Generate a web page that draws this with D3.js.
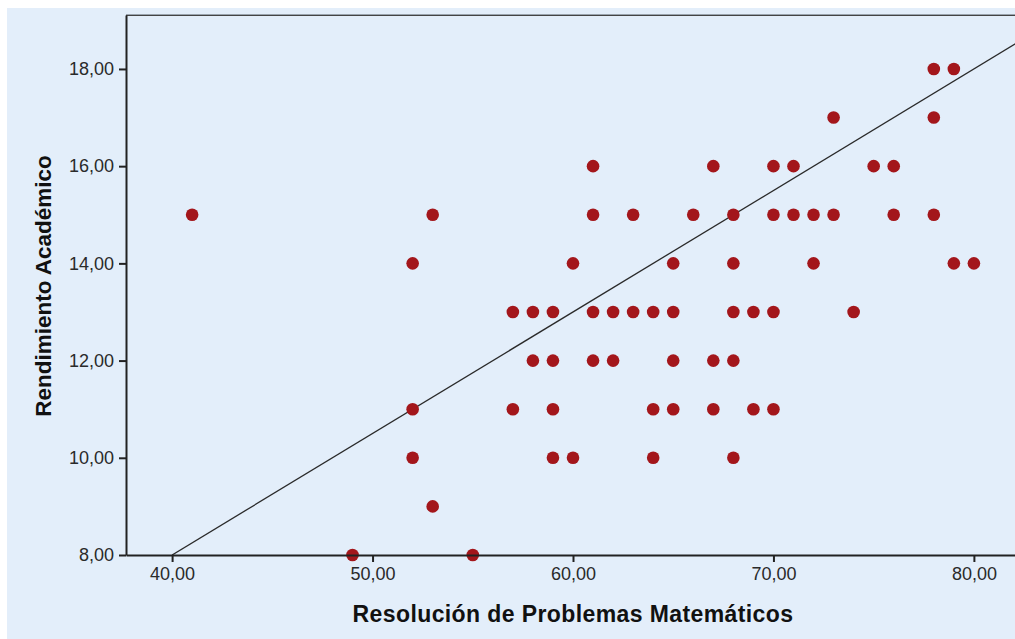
<!DOCTYPE html>
<html lang="es">
<head>
<meta charset="UTF-8">
<title>Dispersión</title>
<script src="https://cdn.jsdelivr.net/npm/d3@7"></script>
<style>
  body { margin: 0; background: #fff; }
  svg { display: block; font-family: "Liberation Sans", Arial, sans-serif; }
</style>
</head>
<body>
<div id="chart"></div>
<script>
// puntajes (x) y notas (y), un punto por par
var resolucion = [
  78, 79,
  73, 78,
  61, 67, 70, 71, 75, 76,
  41, 53, 61, 63, 66, 68, 70, 71, 72, 73, 76, 78,
  52, 60, 65, 68, 72, 79, 80,
  57, 58, 59, 61, 62, 63, 64, 65, 68, 69, 70, 74,
  58, 59, 61, 62, 65, 67, 68,
  52, 57, 59, 64, 65, 67, 69, 70,
  52, 59, 60, 64, 68,
  53,
  49, 55
];
var rendimiento = [
  18, 18,
  17, 17,
  16, 16, 16, 16, 16, 16,
  15, 15, 15, 15, 15, 15, 15, 15, 15, 15, 15, 15,
  14, 14, 14, 14, 14, 14, 14,
  13, 13, 13, 13, 13, 13, 13, 13, 13, 13, 13, 13,
  12, 12, 12, 12, 12, 12, 12,
  11, 11, 11, 11, 11, 11, 11, 11,
  10, 10, 10, 10, 10,
  9,
  8, 8
];
var xTicks = [40, 50, 60, 70, 80];
var yTicks = [8, 10, 12, 14, 16, 18];
var recta = { intercepto: -2, pendiente: 0.25 }; // recta de ajuste

var W = 1015, H = 639;
var pLeft = 126, pTop = 15, pRight = 1020, pBottom = 555;

var svg = d3.select("#chart").append("svg")
  .attr("width", W).attr("height", H);

svg.append("rect").attr("x", 7).attr("y", 8)
  .attr("width", W - 7).attr("height", H - 8).attr("fill", "#e3eefa");

var x = d3.scaleLinear().domain([37.7, 82.3]).range([pLeft, pRight]);
var y = d3.scaleLinear().domain([8, 19.11]).range([pBottom, pTop]);

var fmt = function(d){ return d.toFixed(2).replace(".", ","); };

// borde superior
svg.append("line").attr("x1", pLeft).attr("x2", W).attr("y1", pTop - 0.5).attr("y2", pTop - 0.5)
  .attr("stroke", "#9aa4ae").attr("stroke-width", 1);
svg.append("line").attr("x1", pLeft).attr("x2", W).attr("y1", pTop + 0.5).attr("y2", pTop + 0.5)
  .attr("stroke", "#444").attr("stroke-width", 1);

svg.append("clipPath").attr("id", "area")
  .append("rect").attr("x", pLeft).attr("y", pTop).attr("width", pRight - pLeft).attr("height", pBottom - pTop);

// recta
var xr0 = 40, xr1 = 82.3;
svg.append("line")
  .attr("clip-path", "url(#area)")
  .attr("x1", x(xr0)).attr("y1", y(recta.intercepto + recta.pendiente * xr0))
  .attr("x2", x(xr1)).attr("y2", y(recta.intercepto + recta.pendiente * xr1))
  .attr("stroke", "#2a2a2a").attr("stroke-width", 1.3);

// puntos
svg.append("g").selectAll("circle")
  .data(d3.range(resolucion.length))
  .enter().append("circle")
  .attr("cx", function(i){ return x(resolucion[i]); })
  .attr("cy", function(i){ return y(rendimiento[i]); })
  .attr("r", 6.3)
  .attr("fill", "#a3161b");

// ejes
var xAxis = svg.append("g").attr("transform", "translate(0," + pBottom + ")")
  .call(d3.axisBottom(x).tickValues(xTicks).tickFormat(fmt).tickSize(7).tickSizeOuter(0));
var yAxis = svg.append("g").attr("transform", "translate(" + pLeft + ",0)")
  .call(d3.axisLeft(y).tickValues(yTicks).tickFormat(fmt).tickSize(7).tickSizeOuter(0));

[xAxis, yAxis].forEach(function(a){
  a.select(".domain").attr("stroke", "#222").attr("stroke-width", 2);
  a.selectAll(".tick line").attr("stroke", "#222").attr("stroke-width", 2);
  a.selectAll(".tick text").attr("fill", "#2a2a2a").style("font-size", "18px");
});
xAxis.selectAll(".tick text").attr("dy", "0.71em").attr("y", 12);
yAxis.selectAll(".tick text").attr("x", -12);

svg.append("text")
  .attr("x", 573).attr("y", 622)
  .attr("text-anchor", "middle")
  .style("font-size", "23px").style("font-weight", "bold").style("letter-spacing", "0.4px")
  .attr("fill", "#111")
  .text("Resolución de Problemas Matemáticos");

svg.append("text")
  .attr("transform", "translate(51,286) rotate(-90)")
  .attr("text-anchor", "middle")
  .style("font-size", "22.5px").style("font-weight", "bold").attr("fill", "#111")
  .text("Rendimiento Académico");
</script>
</body>
</html>
